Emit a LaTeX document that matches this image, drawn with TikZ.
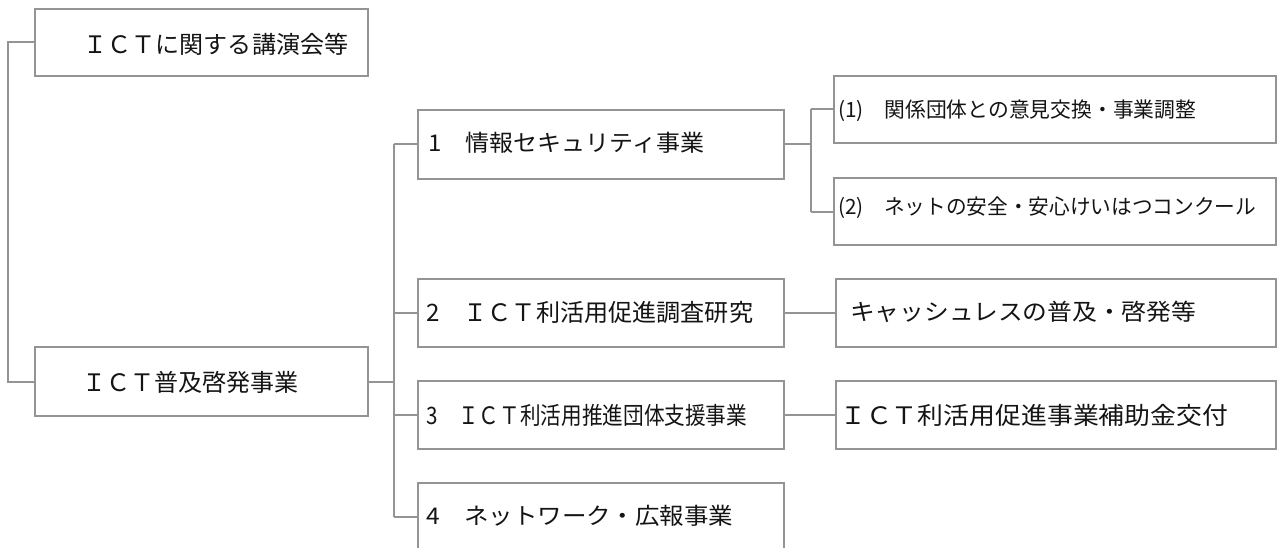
\documentclass[tikz,border=0pt]{standalone}
\usepackage{fontspec}
\setmainfont{Noto Sans CJK JP}
\usepackage{graphicx}
\newcommand\tx[3]{\fontsize{#1pt}{#1pt}\selectfont\resizebox{#2pt}{\height}{#3}}
\tikzset{
  box/.style={draw=black!42, line width=2pt, fill=white, inner sep=0pt, rectangle},
  conn/.style={draw=black!42, line width=2pt},
  txt/.style={anchor=west, inner sep=0pt, text=black!92},
}
\begin{document}
\begin{tikzpicture}[x=1pt,y=-1pt]
\useasboundingbox (0,0) rectangle (1281,548);
\clip (0,0) rectangle (1281,548);
% boxes
\node[box, minimum width=333pt, minimum height=67pt] (A)  at (201.5,42.5) {};
\node[box, minimum width=333pt, minimum height=69pt] (B)  at (201.5,381.5) {};
\node[box, minimum width=366pt, minimum height=69pt] (n1) at (601,144.5) {};
\node[box, minimum width=366pt, minimum height=68pt] (n2) at (601,313) {};
\node[box, minimum width=366pt, minimum height=68pt] (n3) at (601,415) {};
\node[box, minimum width=366pt, minimum height=68pt] (n4) at (601,517) {};
\node[box, minimum width=442pt, minimum height=67pt] (s1) at (1055,109.5) {};
\node[box, minimum width=442pt, minimum height=67pt] (s2) at (1055,211.5) {};
\node[box, minimum width=440pt, minimum height=68pt] (r2) at (1056,313) {};
\node[box, minimum width=440pt, minimum height=68pt] (r3) at (1056,415) {};
% connectors
\draw[conn] (A.west) -- ++(-26,0) |- (B.west);
\draw[conn] (B.east) -- ++(25,0) coordinate (t);
\draw[conn] (t |- n1.west) -- (t |- n4.west);
\foreach \n in {n1,n2,n3,n4}{\draw[conn] (t |- \n.west) -- (\n.west);}
\draw[conn] (n1.east) -- ++(26,0) coordinate (u);
\draw[conn] (u |- s1.west) -- (u |- s2.west);
\draw[conn] (u |- s1.west) -- (s1.west);
\draw[conn] (u |- s2.west) -- (s2.west);
\draw[conn] (n2.east) -- (r2.west);
\draw[conn] (n3.east) -- (r3.west);
% texts
\node[txt] (tA)  at (83.5,44) {\tx{24}{264.5}{ＩＣＴに関する講演会等}};
\node[txt] (tB)  at (82,382)  {\tx{24}{216}{ＩＣＴ普及啓発事業}};
\node[txt] (t1)  at (428,143) {\tx{23}{276}{1　情報セキュリティ事業}};
\node[txt] (t2)  at (426,312) {\tx{24}{327}{2　ＩＣＴ利活用促進調査研究}};
\node[txt] (t3)  at (426,415) {\tx{24}{321}{3　ＩＣＴ利活用推進団体支援事業}};
\node[txt] (t4)  at (426,516) {\tx{23}{307}{4　ネットワーク・広報事業}};
\node[txt] (ts1) at (838,111) {\tx{21}{358}{(1)　関係団体との意見交換・事業調整}};
\node[txt] (ts2) at (838,208) {\tx{21}{418}{(2)　ネットの安全・安心けいはつコンクール}};
\node[txt] (tr2) at (850,312) {\tx{23}{346}{キャッシュレスの普及・啓発等}};
\node[txt] (tr3) at (840,415) {\tx{24}{388}{ＩＣＴ利活用促進事業補助金交付}};
\end{tikzpicture}
\end{document}
